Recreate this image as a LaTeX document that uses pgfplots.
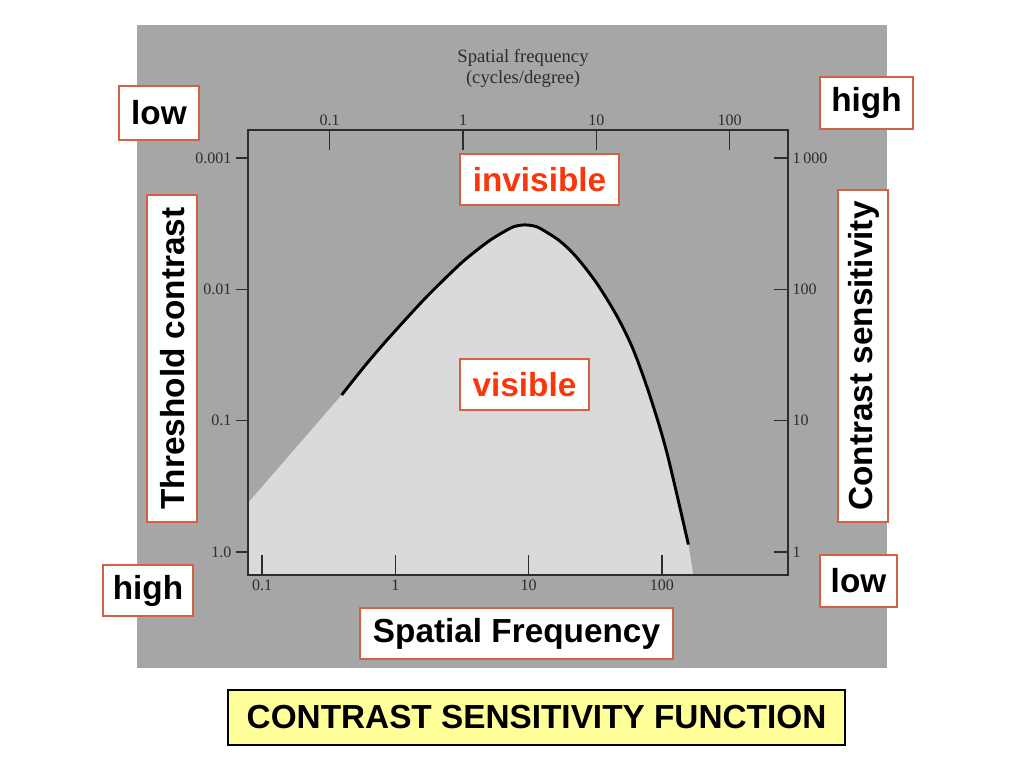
\documentclass[border=0pt]{standalone}
\usepackage{pgfplots}
\pgfplotsset{compat=1.18}
\usepackage{fontspec}
\setmainfont{Liberation Serif}
\newfontfamily\sansb{Liberation Sans}
\definecolor{scanbg}{RGB}{166,166,166}
\definecolor{scanlight}{RGB}{218,218,218}
\definecolor{boxedge}{RGB}{214,96,70}
\definecolor{redtxt}{RGB}{250,55,10}
\definecolor{ink}{RGB}{45,45,45}
\definecolor{yel}{RGB}{255,255,153}
\newcommand\ann{\sansb\bfseries\fontsize{25}{30}\selectfont}
\pgfplotsset{
  csfaxis/.style={
    at={(186pt,-431.25pt)}, anchor=south west,
    scale only axis, width=405pt, height=333.75pt,
    xmin=0.0785, xmax=883, ymin=0.668, ymax=1637,
    axis line style={ink, line width=1.1pt},
    major tick style={ink, line width=1.1pt},
    minor tick style={draw=none},
    ticklabel style={font=\fontsize{12}{14}\selectfont, text=ink},
    clip=false,
  }
}
\begin{document}
\begin{tikzpicture}
\begin{scope}[x=0.75pt,y=-0.75pt]
\useasboundingbox (0,0) rectangle (1024,768);
\fill[white] (0,0) rectangle (1024,768);
\fill[scanbg] (137,25) rectangle (887,668);
\end{scope}

% bottom axis: spatial frequency
\begin{axis}[xmode=log, ymode=log, csfaxis, axis on top,
  xtick={0.1,1,10,100},
  xticklabels={\textrm{0.1},\textrm{1},\textrm{10},\textrm{100}},
  xtick pos=bottom, xtick align=inside,
  ytick=\empty,
  major tick length=15pt,
]
\addplot[fill=scanlight, draw=none] coordinates {
  (0.0785,0.668) (0.0785,2.36) (0.396,15.7) (0.575,25.3) (0.813,38.3)
  (1.29,64.4) (1.82,93.3) (2.89,147.6) (3.63,180.7) (5.13,236.6) (7.25,291.7)
  (8.32,306) (9.4,310) (10.7,305.6) (12.2,291.7) (17.2,233.1) (23.0,174.8)
  (32.4,111.6) (45.8,63.1) (61.0,34.7) (81.4,15.4) (109,5.70) (158,1.14)
  (172,0.668)
} -- cycle;
\addplot[black, line width=2.2pt, smooth] coordinates {
  (0.396,15.7) (0.575,25.3) (0.813,38.3)
  (1.29,64.4) (1.82,93.3) (2.89,147.6) (3.63,180.7) (5.13,236.6) (7.25,291.7)
  (8.32,306) (9.4,310) (10.7,305.6) (12.2,291.7) (17.2,233.1) (23.0,174.8)
  (32.4,111.6) (45.8,63.1) (61.0,34.7) (81.4,15.4) (109,5.70) (158,1.14)
};
\end{axis}

% left axis: threshold contrast
\begin{axis}[xmode=log, ymode=log, csfaxis,
  xtick=\empty,
  ytick={1000,100,10,1},
  yticklabels={\textrm{0.001},\textrm{0.01},\textrm{0.1},\textrm{1.0}},
  ytick pos=left, ytick align=outside,
  major tick length=9pt,
]
\end{axis}

% top axis: shifted frequency scale
\begin{axis}[xmode=log, ymode=log, csfaxis,
  xmin=0.02438, xmax=274.2,
  xtick={0.1,1,10,100},
  xticklabels={\textrm{0.1},\textrm{1},\textrm{10},\textrm{100}},
  xtick pos=top, xticklabel pos=top, xtick align=inside,
  ytick=\empty,
  major tick length=15pt,
]
\end{axis}

% right axis: contrast sensitivity
\begin{axis}[xmode=log, ymode=log, csfaxis,
  xtick=\empty,
  ytick={1000,100,10,1},
  yticklabels={\textrm{1\,000},\textrm{100},\textrm{10},\textrm{1}},
  ytick pos=right, yticklabel pos=right, ytick align=inside,
  major tick length=10.5pt,
]
\end{axis}

\begin{scope}[x=0.75pt,y=-0.75pt]
\node[text=ink, font=\fontsize{14}{16}\selectfont] at (523,58) {Spatial frequency};
\node[text=ink, font=\fontsize{14}{16}\selectfont] at (523,79) {(cycles/degree)};

\draw[boxedge, line width=1.1pt, fill=white] (119,86) rectangle (199,140);
\node at (159,113) {\ann low};
\draw[boxedge, line width=1.1pt, fill=white] (820,77) rectangle (913,129);
\node at (866.5,103) {\ann high};
\draw[boxedge, line width=1.1pt, fill=white] (103,565) rectangle (193,616);
\node at (148,590.5) {\ann high};
\draw[boxedge, line width=1.1pt, fill=white] (820,555) rectangle (897,607);
\node at (858.5,581) {\ann low};
\draw[boxedge, line width=1.1pt, fill=white] (147,195) rectangle (197,522);
\node[rotate=90] at (173,358.5) {\ann Threshold contrast};
\draw[boxedge, line width=1.1pt, fill=white] (838,190) rectangle (888,522);
\node[rotate=90] at (864,356) {\ann Contrast sensitivity};
\draw[boxedge, line width=1.1pt, fill=white] (360,608) rectangle (673,659);
\node at (516.5,633.5) {\ann Spatial Frequency};
\draw[boxedge, line width=1.1pt, fill=white] (460,154) rectangle (619,205);
\node at (539.5,179.5) {\ann\color{redtxt}invisible};
\draw[boxedge, line width=1.1pt, fill=white] (460,359) rectangle (589,410);
\node at (524.5,384.5) {\ann\color{redtxt}visible};
\draw[black, line width=0.9pt, fill=yel] (228,690) rectangle (845,745);
\node at (536.5,717.5) {\ann CONTRAST SENSITIVITY FUNCTION};
\end{scope}
\end{tikzpicture}
\end{document}
